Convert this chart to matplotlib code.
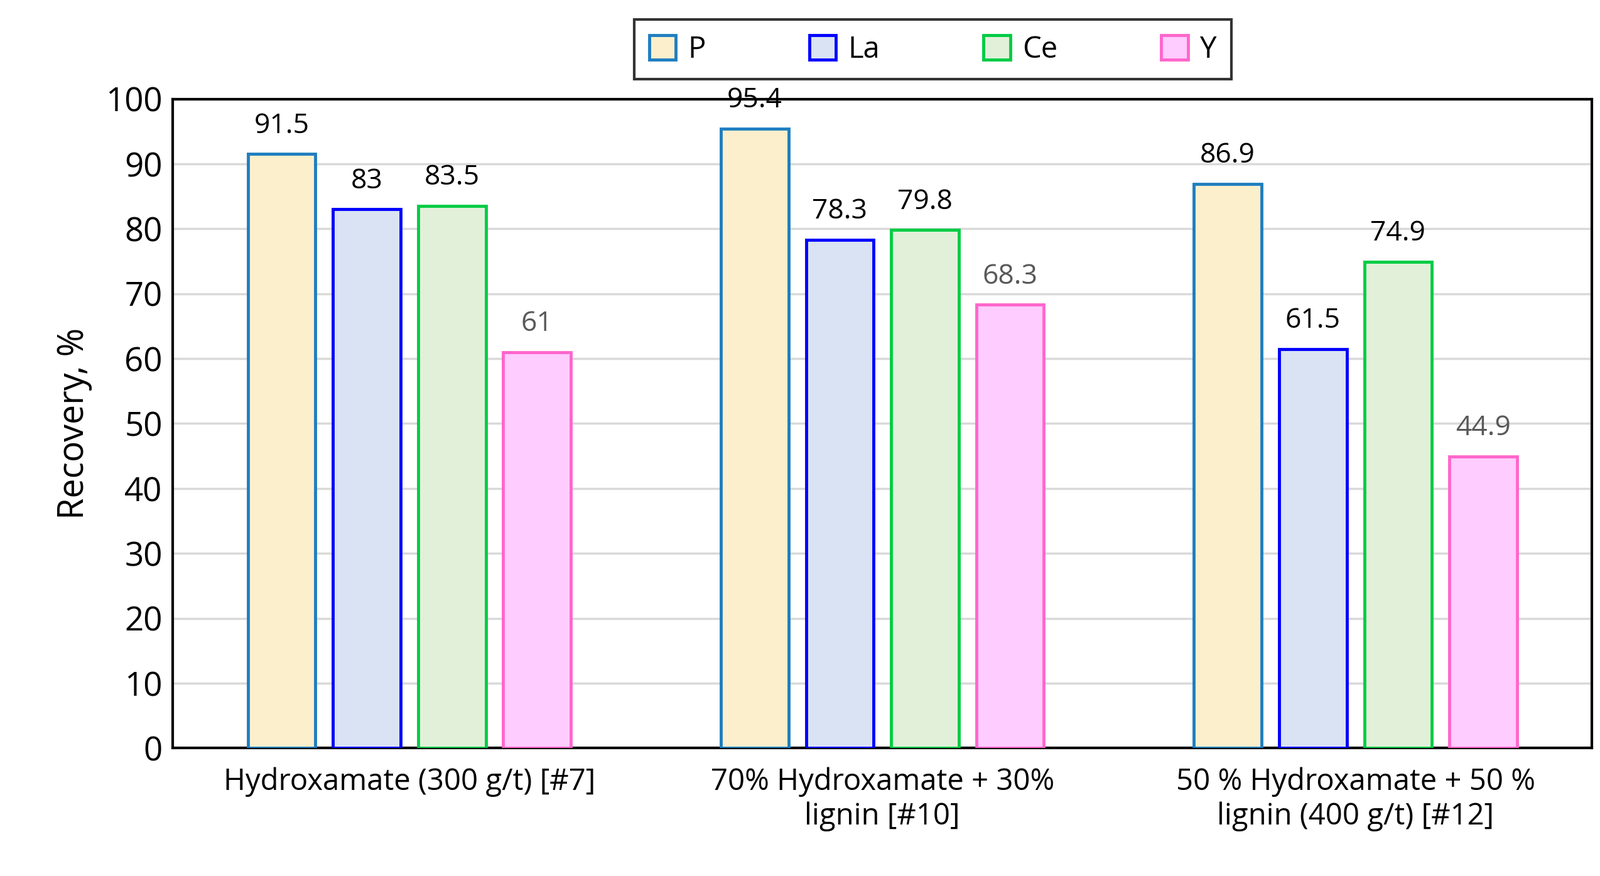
import matplotlib
matplotlib.use("Agg")
import matplotlib.pyplot as plt
import numpy as np

categories = ["Hydroxamate (300 g/t) [#7]", "70% Hydroxamate + 30%\nlignin [#10]", "50 % Hydroxamate + 50 %\nlignin (400 g/t) [#12]"]
series = ["P", "La", "Ce", "Y"]
values = {
    "P": [91.5, 95.4, 86.9],
    "La": [83, 78.3, 61.5],
    "Ce": [83.5, 79.8, 74.9],
    "Y": [61, 68.3, 44.9],
}
yticks = list(range(0, 101, 10))

faces = ["#FCEFCB", "#DAE3F3", "#E2F0D9", "#FFCCFF"]
edges = ["#1F7EC0", "#0000FF", "#00CC44", "#FF66CC"]
lblc = ["black", "black", "black", "#595959"]

plt.rcParams["font.family"] = "Open Sans"
fig = plt.figure(figsize=(25.48, 13.95), dpi=100)
ax = fig.add_axes([0.108, 0.146, 0.887, 0.741])
x = np.arange(len(categories))
step, w = 0.18, 0.143
for i, s in enumerate(series):
    pos = x + (i - 1.5) * step
    bars = ax.bar(pos, values[s], w, color=faces[i], edgecolor=edges[i], linewidth=3.5, label=s, zorder=3)
    for b, v in zip(bars, values[s]):
        ax.text(b.get_x() + b.get_width() / 2, v + 2.2, f"{v:g}", ha="center", va="bottom",
                fontsize=32, color=lblc[i])
ax.set_xlim(-0.5, 2.5)
ax.set_ylim(0, 100)
ax.set_yticks(yticks)
ax.tick_params(axis="y", labelsize=38, length=0, pad=12)
ax.tick_params(axis="x", labelsize=34, length=0, pad=22)
ax.set_xticks(x)
ax.set_xticklabels(categories)
ax.yaxis.grid(True, color="#D9D9D9", linewidth=2.5, zorder=0)
ax.set_axisbelow(True)
for sp in ax.spines.values():
    sp.set_linewidth(3)
ax.set_ylabel("Recovery, %", fontsize=40, labelpad=15)
handles, labels = ax.get_legend_handles_labels()
leg = fig.legend(handles, labels, loc="center", bbox_to_anchor=(0.344, 0.897, 0.478, 0.093),
                 ncol=4, fontsize=34, frameon=True, fancybox=False, edgecolor="black",
                 columnspacing=3.5, handlelength=0.9, handleheight=0.9, handletextpad=0.4,
                 borderpad=0.5)
leg.get_frame().set_linewidth(3)
fig.savefig("out.png", dpi=100)
